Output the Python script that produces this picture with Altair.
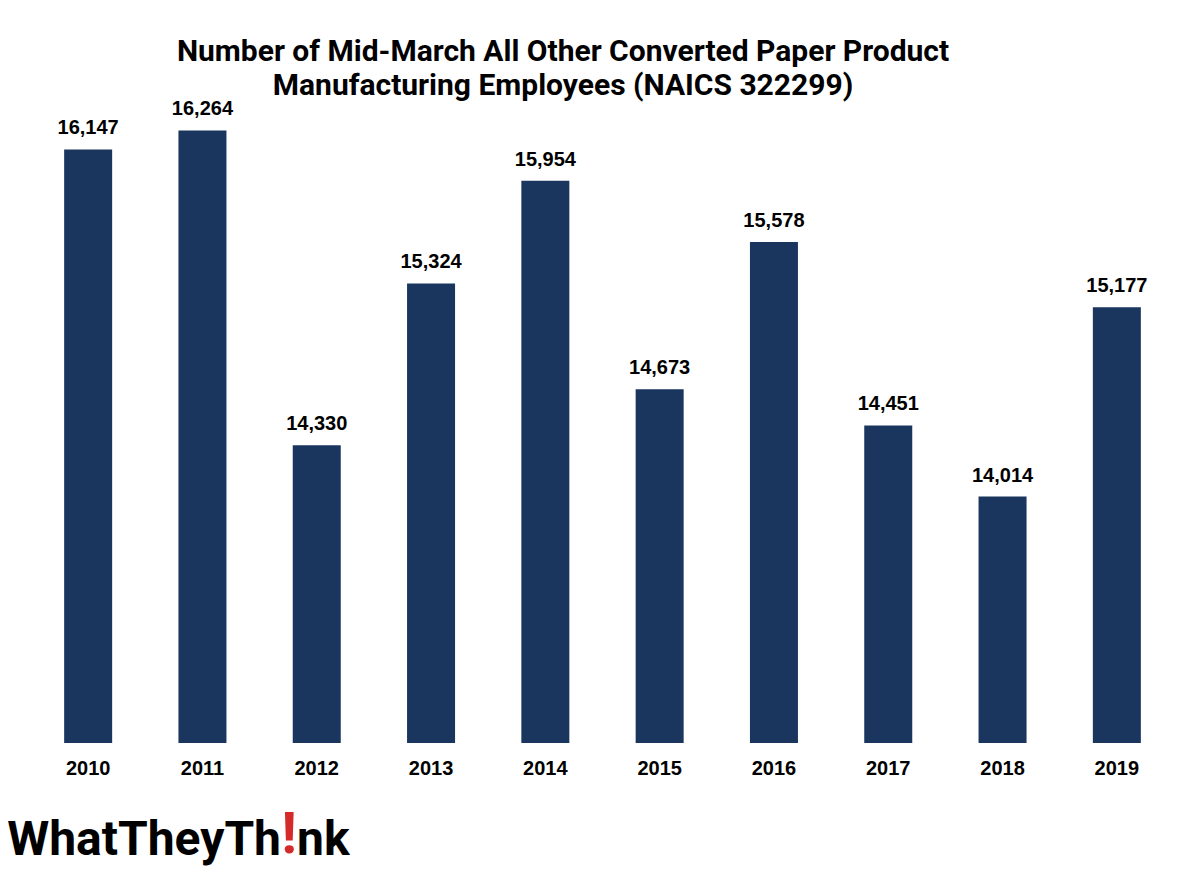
import altair as alt
import pandas as pd

years = ["2010", "2011", "2012", "2013", "2014", "2015", "2016", "2017", "2018", "2019"]
employees = [16147, 16264, 14330, 15324, 15954, 14673, 15578, 14451, 14014, 15177]
title_lines = ["Number of Mid-March All Other Converted Paper Product",
               "Manufacturing Employees (NAICS 322299)"]

df = pd.DataFrame({"year": years, "value": employees})

BAR = "#1a365e"
NARROW = "Roboto, sans-serif"
SANS = "Liberation Sans, Arial, sans-serif"

x = alt.X("year:N", sort=years, title=None,
          scale=alt.Scale(paddingInner=0.58, paddingOuter=0.29),
          axis=alt.Axis(labelAngle=0, labelFont=SANS, labelFontSize=20, labelFontWeight="bold",
                        labelColor="black", labelPadding=15, ticks=False, domain=False))
y = alt.Y("value:Q", title=None, scale=alt.Scale(domain=[12500, 16500], clamp=True, nice=False, zero=False),
          axis=None)

bars = alt.Chart(df).mark_bar(color=BAR, clip=True).encode(x=x, y=y)
labels = alt.Chart(df).mark_text(baseline="bottom", dy=-11, font=SANS, fontSize=20,
                                 fontWeight="bold", color="black").encode(
    x=alt.X("year:N", sort=years), y="value:Q", text=alt.Text("value:Q", format=","))

t1 = alt.Chart(pd.DataFrame({"t": [title_lines[0]]})).mark_text(
    font=NARROW, fontSize=30, fontWeight="bold", color="black", baseline="alphabetic", align="center"
).encode(x=alt.value(532), y=alt.value(-31), text="t:N")
t2 = alt.Chart(pd.DataFrame({"t": [title_lines[1]]})).mark_text(
    font=NARROW, fontSize=30, fontWeight="bold", color="black", baseline="alphabetic", align="center"
).encode(x=alt.value(532), y=alt.value(3), text="t:N")

logo1 = alt.Chart(pd.DataFrame({"t": ["WhatTheyTh"]})).mark_text(
    font=NARROW, fontSize=48, fontWeight="bold", color="black", baseline="alphabetic", align="right"
).encode(x=alt.value(250), y=alt.value(763), text="t:N")
logo2 = alt.Chart(pd.DataFrame({"t": ["!"]})).mark_text(
    font=NARROW, fontSize=58, fontWeight="bold", color="#d42a2a", baseline="alphabetic", align="center"
).encode(x=alt.value(258), y=alt.value(761), text="t:N")
logo3 = alt.Chart(pd.DataFrame({"t": ["nk"]})).mark_text(
    font=NARROW, fontSize=48, fontWeight="bold", color="black", baseline="alphabetic", align="left"
).encode(x=alt.value(266), y=alt.value(763), text="t:N")

chart = alt.layer(bars, labels, t1, t2, logo1, logo2, logo3).properties(
    width=1143, height=651,
    autosize=alt.AutoSizeParams(type="none"),
    padding={"left": 23, "top": 84, "right": 10, "bottom": 125},
).configure(background="white").configure_view(stroke=None, strokeWidth=0)

chart.save("out.html", embed_options={"renderer": "svg", "actions": False})
